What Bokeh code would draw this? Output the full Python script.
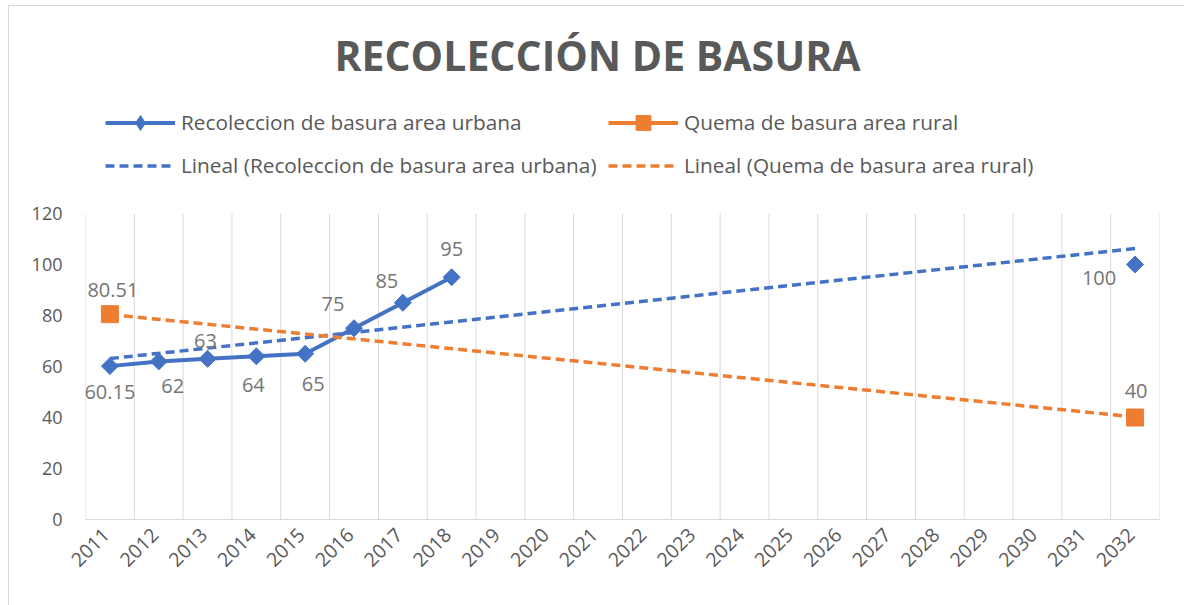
import math
from bokeh.plotting import figure
from bokeh.models import ColumnDataSource, Range1d, FixedTicker, Label, Legend, LegendItem
from bokeh.core.properties import value
from bokeh.embed import file_html
from bokeh.resources import INLINE

# ---------------- data ----------------
years = ["2011", "2012", "2013", "2014", "2015", "2016", "2017", "2018", "2019", "2020", "2021",
         "2022", "2023", "2024", "2025", "2026", "2027", "2028", "2029", "2030", "2031", "2032"]
urban = [60.15, 62, 63, 64, 65, 75, 85, 95, None, None, None,
         None, None, None, None, None, None, None, None, None, None, 100]
rural = [80.51, None, None, None, None, None, None, None, None, None, None,
         None, None, None, None, None, None, None, None, None, None, 40]
# linear trend lines (at first and last category)
trend_years = ["2011", "2032"]
trend_urban = [63.1, 106.3]
trend_rural = [80.4, 40.2]
y_ticks = [0, 20, 40, 60, 80, 100, 120]

# label placement (pixel offsets, styling only)
urban_lab_dx = [0, 14, -2, -3, 8, -21, -16, 0, -36]
urban_lab_dy = [26, 25, -18, 29, 30, -24, -22, -28, 13]
rural_lab_dx = [3, 1]
rural_lab_dy = [-24, -27]

BLUE = "#4472C4"
ORANGE = "#ED7D31"
GRID = "#D9D9D9"
TXT = "#595959"
LAB = "#757575"
FONT = "Open Sans"

# layout (pixels)
W, H = 1176, 600
LEFT, RIGHT, BOTTOM = 77, 25, 86
FRAME_H = H - BOTTOM          # frame runs to the top of the canvas
PLOT_H = 306                  # height of the 0..120 value band

nan = float("nan")
xs = list(range(1, len(years) + 1))
urban_v = [nan if v is None else v for v in urban]
rural_v = [nan if v is None else v for v in rural]
trend_x = [years.index(y) + 1 for y in trend_years]
y_top = y_ticks[-1] * FRAME_H / PLOT_H

p = figure(width=W, height=H, output_backend="svg", toolbar_location=None,
           x_range=Range1d(0.5, len(years) + 0.5), y_range=Range1d(y_ticks[0], y_top),
           min_border_left=LEFT, min_border_right=RIGHT, min_border_top=0,
           min_border_bottom=BOTTOM)
p.styles = {"margin-left": "8px", "margin-top": "5px",
            "box-shadow": "inset 1px 1px 0 0 #D9D9D9"}
p.outline_line_color = None
p.background_fill_alpha = 0
p.border_fill_alpha = 0

# no built-in grids; vertical separators between categories drawn over the 0..120 band
p.xgrid.visible = False
p.ygrid.visible = False
bounds = [i + 0.5 for i in range(0, len(years) + 1)]
p.segment(x0=bounds, y0=[y_ticks[0]] * len(bounds), x1=bounds, y1=[y_ticks[-1]] * len(bounds),
          line_color=GRID, line_width=1)

xa = p.xaxis[0]
label_shift = 0.08  # rotated labels end at the category centre
xa.ticker = FixedTicker(ticks=[x - label_shift for x in xs])
xa.major_label_overrides = {x - label_shift: y for x, y in zip(xs, years)}
xa.major_tick_line_color = None
xa.minor_tick_line_color = None
xa.major_tick_in = 0
xa.major_tick_out = 0
xa.axis_line_color = GRID
xa.major_label_orientation = math.pi / 4
xa.major_label_standoff = 12
xa.major_label_text_font = FONT
xa.major_label_text_font_size = "19.5px"
xa.major_label_text_color = TXT

ya = p.yaxis[0]
ya.ticker = FixedTicker(ticks=y_ticks)
ya.major_tick_line_color = None
ya.minor_tick_line_color = None
ya.major_tick_in = 0
ya.major_tick_out = 0
ya.axis_line_color = None
ya.major_label_standoff = 23
ya.major_label_text_font = FONT
ya.major_label_text_font_size = "18px"
ya.major_label_text_color = TXT

# series lines
r_u_line = p.line(xs, urban_v, line_color=BLUE, line_width=4)
r_r_line = p.line(xs, rural_v, line_color=ORANGE, line_width=4)
# trend lines
r_u_trend = p.line(trend_x, trend_urban, line_color=BLUE, line_width=3.5, line_dash="9 5")
r_r_trend = p.line(trend_x, trend_rural, line_color=ORANGE, line_width=3.5, line_dash="9 5")
# markers
r_u_pts = p.scatter(xs, urban_v, marker="square", angle=math.pi / 4, size=12,
                    fill_color=BLUE, line_color=BLUE)
r_r_pts = p.scatter(xs, rural_v, marker="square", size=17,
                    fill_color=ORANGE, line_color=ORANGE)
# legend-only diamond symbol (a single undrawn point)
r_u_leg = p.scatter(x=[nan], y=[nan], marker="diamond", fill_color=BLUE, line_color=BLUE)

# data labels
def label_source(vals, dxs, dys):
    x, y, t = [], [], []
    for xi, v in zip(xs, vals):
        if v is not None:
            x.append(xi)
            y.append(v)
            t.append(f"{v:g}")
    return ColumnDataSource(dict(x=x, y=y, text=t, dx=dxs, dy=dys))

for src in (label_source(urban, urban_lab_dx, urban_lab_dy),
            label_source(rural, rural_lab_dx, rural_lab_dy)):
    p.text(x="x", y="y", text="text", x_offset="dx", y_offset="dy", source=src,
           text_align="center", text_baseline="middle",
           text_font=value(FONT), text_font_size="20px", text_color=LAB)

# title
p.add_layout(Label(x=512, y=465, x_units="screen", y_units="screen",
                   text="RECOLECCIÓN DE BASURA", text_align="center", text_baseline="middle",
                   text_font=FONT, text_font_style="bold", text_font_size="41px",
                   text_color=TXT))

# legends (two columns)
def make_legend(items, loc):
    lg = Legend(items=items, location=loc, orientation="vertical",
                glyph_width=70, glyph_height=37, label_height=37, label_standoff=6,
                spacing=6, padding=0, margin=0,
                background_fill_alpha=0, border_line_color=None,
                label_text_font=FONT, label_text_font_size="20.8px", label_text_color=TXT)
    p.add_layout(lg, "center")

make_legend([LegendItem(label="Recoleccion de basura area urbana", renderers=[r_u_line, r_u_leg]),
             LegendItem(label="Lineal (Recoleccion de basura area urbana)", renderers=[r_u_trend])],
            (20, 335.5))
make_legend([LegendItem(label="Quema de basura area rural", renderers=[r_r_line, r_r_pts]),
             LegendItem(label="Lineal (Quema de basura area rural)", renderers=[r_r_trend])],
            (523, 335.5))

open("out.html", "w").write(file_html(p, INLINE))
